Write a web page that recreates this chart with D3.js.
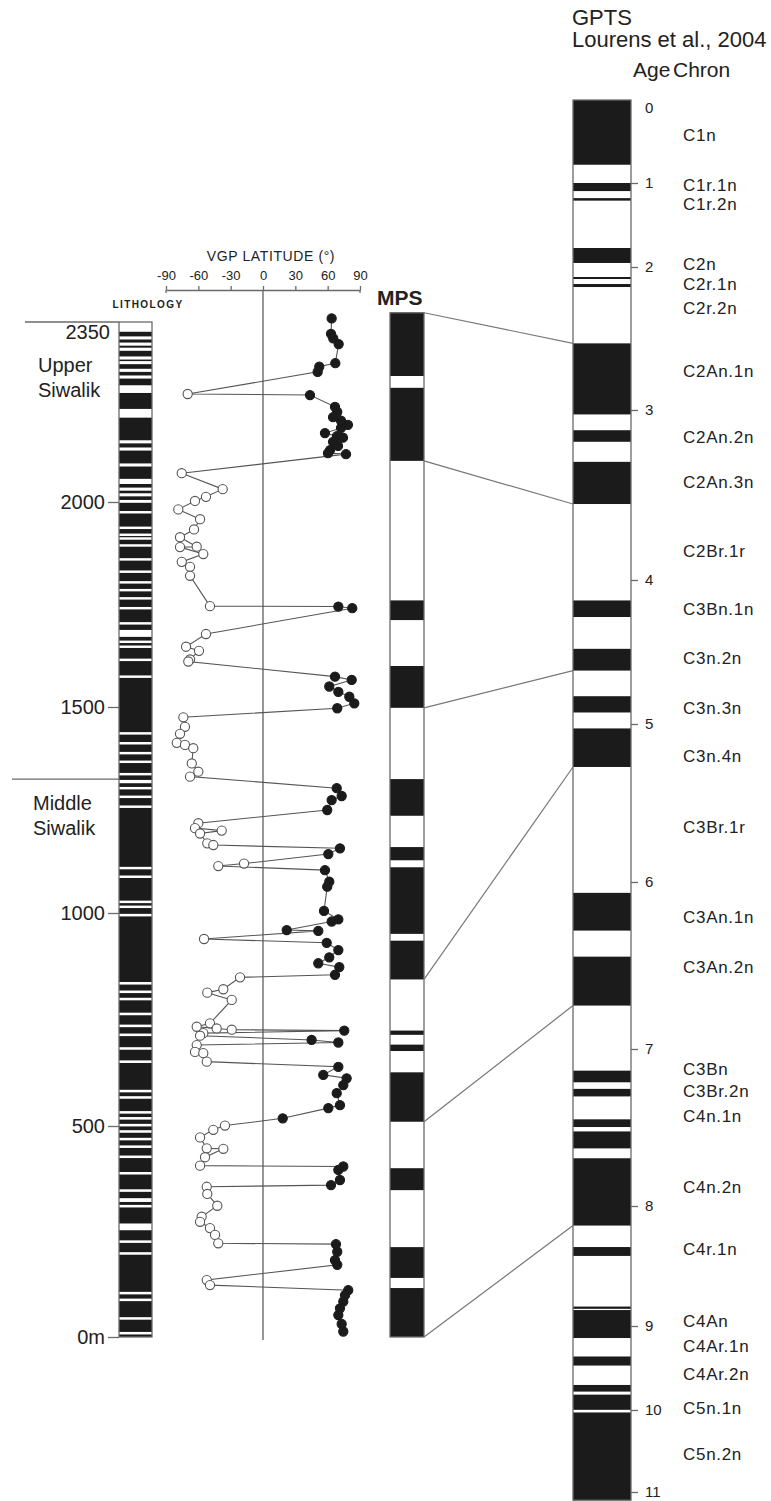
<!DOCTYPE html>
<html>
<head>
<meta charset="utf-8">
<script src="https://cdn.jsdelivr.net/npm/d3@7"></script>
<style>
  body { margin: 0; background: #fff; }
  svg { display: block; }
  text { font-family: "Liberation Sans", Arial, sans-serif; fill: #222; }
</style>
</head>
<body>
<svg id="chart" width="771" height="1501"></svg>
<script>
// ---------- Section depth (m) and GPTS age (Ma) reference ticks ----------
const depthTicks = [0, 500, 1000, 1500, 2000, 2350];
const ageTicks = [0, 1, 2, 3, 4, 5, 6, 7, 8, 9, 10, 11];
const latTicks = [-90, -60, -30, 0, 30, 60, 90];

// ---------- Lithology: sandstone beds (white), depth intervals in m ----------
const sandBeds = [
  [2350, 2331], [2322, 2316], [2310, 2304], [2300, 2294], [2283, 2277], [2274, 2268],
  [2259, 2253], [2246, 2240], [2227, 2212], [2181, 2164], [2120, 2114], [2106, 2100],
  [2075, 2069], [2045, 2035], [2028, 2022], [2017, 2011], [2004, 1998], [1978, 1972],
  [1940, 1934], [1923, 1917], [1914, 1908], [1897, 1891], [1863, 1857], [1833, 1827],
  [1807, 1801], [1788, 1782], [1768, 1762], [1744, 1738], [1707, 1701], [1688, 1671],
  [1662, 1656], [1650, 1644], [1618, 1612], [1577, 1571], [1439, 1433], [1415, 1409],
  [1391, 1385], [1370, 1364], [1340, 1334], [1323, 1315], [1306, 1300], [1285, 1279],
  [1261, 1255], [1112, 1106], [1091, 1085], [1030, 1024], [1018, 1012], [998, 992],
  [838, 832], [818, 812], [801, 795], [766, 760], [738, 732], [717, 711], [685, 679],
  [654, 648], [585, 579], [570, 564], [535, 529], [521, 515], [505, 499], [490, 484],
  [472, 466], [454, 448], [430, 424], [391, 385], [350, 344], [329, 320], [313, 307],
  [269, 253], [229, 223], [201, 195], [107, 101], [91, 85], [47, 41], [12, 6]
];

// ---------- Formations ----------
const formationNames = [["Upper", "Siwalik"], ["Middle", "Siwalik"]];
const formationTops = [2350, 1325];

// ---------- VGP latitude by stratigraphic level (m, degrees) ----------
const vgpDepth = [
  2357, 2327, 2318, 2307, 2270, 2263, 2253,
  2210,
  2208, 2185, 2175, 2165, 2158, 2150, 2144, 2134, 2128, 2125, 2117, 2109, 2101, 2095, 2093,
  2056, 2025, 2010, 2002, 1982, 1958, 1933, 1914, 1891, 1890, 1873, 1854, 1842, 1820, 1746,
  1745, 1741,
  1678, 1647, 1637, 1616, 1611,
  1574, 1566, 1550, 1537, 1525, 1509, 1497,
  1475, 1452, 1435, 1413, 1408, 1400, 1363, 1343, 1331,
  1303, 1284, 1274, 1250,
  1218, 1206, 1200, 1193, 1169, 1165,
  1157, 1143,
  1120, 1114,
  1104, 1076, 1064, 1005, 985, 980, 960, 958,
  939,
  930, 913, 896, 882, 873, 855,
  849, 821, 813, 796, 741, 733, 729, 726,
  724,
  718, 712,
  702, 696,
  690, 674, 671, 651,
  639, 620, 612, 596, 577, 549, 542, 518,
  501, 491, 473, 447, 446, 426, 406,
  404, 396, 372, 360,
  356, 339, 311, 285, 273, 258, 242, 222,
  220, 202, 182, 171,
  135, 123,
  111, 99, 84, 68, 52, 31, 13
];
const vgpLat = [
  63.7, 63.1, 65.2, 70.2, 67.1, 52.2, 50.7,
  -69.9,
  43.6, 66.8, 68.9, 65.0, 72.4, 78.8, 72.4, 57.5, 68.6, 74.2, 65.0, 69.6, 62.2, 60.3, 77.0,
  -75.4, -37.4, -52.9, -63.1, -78.6, -58.4, -64.0, -77.0, -61.5, -77.0, -55.4, -75.4, -67.7, -67.7, -49.2,
  69.9, 82.8,
  -52.9, -71.4, -59.4, -67.7, -69.3,
  66.8, 82.3, 61.5, 69.9, 80.1, 84.7, 68.9,
  -73.9, -72.4, -77.0, -80.0, -72.4, -64.7, -66.1, -60.0, -67.7,
  68.4, 73.0, 63.7, 59.6,
  -60.0, -63.1, -38.3, -58.4, -51.7, -46.1,
  71.4, 60.6,
  -17.6, -41.5,
  57.5, 61.5, 59.6, 56.6, 69.9, 63.7, 22.0, 51.3,
  -54.7,
  59.1, 69.9, 61.5, 51.3, 70.8, 66.8,
  -21.3, -36.8, -51.7, -29.0, -49.2, -61.5, -43.0, -29.0,
  75.4,
  -55.4, -58.4,
  45.1, 69.9,
  -61.5, -63.1, -55.4, -52.2,
  69.9, 55.9, 77.6, 74.5, 68.4, 71.4, 60.6, 18.3,
  -35.3, -46.1, -58.4, -52.2, -36.8, -53.8, -58.4,
  74.5, 69.9, 71.4, 63.1,
  -52.2, -51.7, -42.4, -56.9, -58.4, -49.2, -44.5, -41.5,
  67.7, 68.9, 66.8, 68.9,
  -52.2, -49.2,
  79.1, 76.1, 74.5, 71.4, 69.9, 73.0, 74.5
];

// ---------- Magnetic polarity stratigraphy (normal zones, m) ----------
const mpsTop = 2368;
const mpsNormal = [
  [2368, 2245], [2222, 2080], [1760, 1712], [1600, 1498], [1325, 1236], [1160, 1128],
  [1111, 951], [935, 844], [724, 714], [691, 676], [626, 510], [400, 348], [213, 140], [116, 0]
];

// ---------- GPTS (Lourens et al., 2004): normal chrons in Ma ----------
const gptsBase = 11.1;
const gptsNormal = [
  [0, 0.78], [1.0, 1.096], [1.18, 1.21], [1.774, 1.952], [2.07, 2.084], [2.119, 2.14],
  [2.534, 3.026], [3.119, 3.187], [3.305, 3.553], [4.142, 4.257], [4.478, 4.629],
  [4.807, 4.92], [5.028, 5.272], [6.065, 6.291], [6.447, 6.74], [7.138, 7.212],
  [7.254, 7.302], [7.448, 7.497], [7.525, 7.633], [7.696, 8.163], [8.342, 8.416],
  [8.838, 8.857], [8.867, 9.143], [9.363, 9.471], [9.702, 9.781], [9.817, 9.998],
  [10.03, 11.1]
];
const chronNames = [
  "C1n", "C1r.1n", "C1r.2n", "C2n", "C2r.1n", "C2r.2n", "C2An.1n", "C2An.2n", "C2An.3n",
  "C2Br.1r", "C3Bn.1n", "C3n.2n", "C3n.3n", "C3n.4n", "C3Br.1r", "C3An.1n", "C3An.2n",
  "C3Bn", "C3Br.2n", "C4n.1n", "C4n.2n", "C4r.1n", "C4An", "C4Ar.1n", "C4Ar.2n",
  "C5n.1n", "C5n.2n"
];
const chronAges = [
  0.42, 1.02, 1.25, 1.97, 2.12, 2.29, 2.73, 3.16, 3.425,
  3.83, 4.2, 4.54, 4.89, 5.2, 5.65, 6.21, 6.51,
  7.13, 7.27, 7.43, 7.88, 8.36, 8.96, 9.24, 9.57,
  9.98, 10.54
];

// ---------- Correlation tie points: MPS level (m) -> GPTS age (Ma) ----------
const tieDepth = [2368, 2080, 1498, 844, 510, 0];
const tieAge = [2.534, 3.553, 4.629, 5.272, 6.74, 8.163];

// =================================================================
const svg = d3.select("#chart");
const BLACK = "#1b1b1b";
const FRAME = "#6a6a6a";

const depthY = d3.scaleLinear().domain(depthTicks).range([1337, 1126, 913, 707, 502, 322]);
const ageY = d3.scaleLinear().domain(ageTicks)
  .range([100, 183, 267, 410, 580, 724, 882, 1049, 1206, 1326, 1410, 1492]);
const latX = d3.scaleLinear().domain([-90, 90]).range([166, 360]);

const litho = { x: 119, w: 33 };
const mps = { x: 390, w: 34 };
const gpts = { x: 573, w: 58 };

// ---------- Formation boundaries and labels ----------
const fm = svg.append("g");
fm.append("line").attr("x1", 25).attr("x2", litho.x)
  .attr("y1", depthY(formationTops[0])).attr("y2", depthY(formationTops[0]))
  .attr("stroke", FRAME).attr("stroke-width", 1.4);
fm.append("line").attr("x1", 12).attr("x2", litho.x)
  .attr("y1", depthY(formationTops[1])).attr("y2", depthY(formationTops[1]))
  .attr("stroke", FRAME).attr("stroke-width", 1.4);
const fmOffsets = [50, 31];
const fmX = [38, 33];
formationNames.forEach((lines, i) => {
  const t = fm.append("text").attr("x", fmX[i])
    .attr("y", depthY(formationTops[i]) + fmOffsets[i])
    .attr("font-size", 20);
  lines.forEach((s, j) => t.append("tspan").attr("x", fmX[i])
    .attr("dy", j === 0 ? 0 : 25).text(s));
});

// ---------- Lithology column ----------
const lg = svg.append("g");
lg.append("rect").attr("x", litho.x).attr("width", litho.w)
  .attr("y", depthY(2350)).attr("height", depthY(0) - depthY(2350)).attr("fill", BLACK);
lg.selectAll("rect.bed").data(sandBeds).join("rect").attr("class", "bed")
  .attr("x", litho.x).attr("width", litho.w)
  .attr("y", d => depthY(d[0])).attr("height", d => depthY(d[1]) - depthY(d[0]))
  .attr("fill", "#fff");
lg.append("rect").attr("x", litho.x).attr("width", litho.w)
  .attr("y", depthY(2350)).attr("height", depthY(0) - depthY(2350))
  .attr("fill", "none").attr("stroke", FRAME).attr("stroke-width", 1.3);
svg.append("text").attr("x", 148).attr("y", 308)
  .attr("text-anchor", "middle").attr("font-size", 10).attr("font-weight", "bold")
  .attr("letter-spacing", 1.4).text("LITHOLOGY");

// Depth axis
const dAxis = svg.append("g").attr("transform", `translate(${litho.x},0)`)
  .call(d3.axisLeft(depthY).tickValues([0, 500, 1000, 1500, 2000]).tickSize(11).tickPadding(3)
    .tickFormat(d => d === 0 ? "0m" : String(d)));
dAxis.select(".domain").remove();
dAxis.selectAll(".tick line").attr("stroke", FRAME).attr("stroke-width", 1.3);
dAxis.selectAll(".tick text").attr("font-size", 20).attr("fill", "#222")
  .attr("font-family", "Liberation Sans, Arial, sans-serif");
svg.append("text").attr("x", 110).attr("y", depthY(2350) + 17)
  .attr("text-anchor", "end").attr("font-size", 20).text("2350");

// ---------- VGP latitude panel ----------
const vg = svg.append("g");
const axisY = 290;
const vAxis = vg.append("g").attr("transform", `translate(0,${axisY})`)
  .call(d3.axisTop(latX).tickValues(latTicks).tickSize(4).tickSizeOuter(0).tickPadding(6)
    .tickFormat(d => String(d)));
vAxis.select(".domain").attr("stroke", FRAME).attr("stroke-width", 1.4);
vAxis.selectAll(".tick line").attr("stroke", FRAME).attr("stroke-width", 1.3);
vAxis.selectAll(".tick text").attr("font-size", 13).attr("fill", "#222")
  .attr("font-family", "Liberation Sans, Arial, sans-serif");
[-90, 90].forEach(v => vg.append("line").attr("x1", latX(v)).attr("x2", latX(v))
  .attr("y1", axisY).attr("y2", axisY + 3).attr("stroke", FRAME).attr("stroke-width", 1.3));
vg.append("text").attr("x", 271).attr("y", 261).attr("text-anchor", "middle")
  .attr("font-size", 14).attr("letter-spacing", 0.6).text("VGP LATITUDE (°)");
vg.append("line").attr("x1", latX(0)).attr("x2", latX(0))
  .attr("y1", axisY).attr("y2", depthY(0) + 3).attr("stroke", FRAME).attr("stroke-width", 1.4);

const vgp = vgpDepth.map((d, i) => ({ depth: d, lat: vgpLat[i] }));
vg.append("path").datum(vgp)
  .attr("d", d3.line().x(d => latX(d.lat)).y(d => depthY(d.depth)))
  .attr("fill", "none").attr("stroke", "#555").attr("stroke-width", 1.1);
vg.selectAll("circle").data(vgp).join("circle")
  .attr("cx", d => latX(d.lat)).attr("cy", d => depthY(d.depth)).attr("r", 4.6)
  .attr("fill", d => d.lat > 0 ? BLACK : "#fff")
  .attr("stroke", d => d.lat > 0 ? BLACK : "#555").attr("stroke-width", 1.1);

// ---------- MPS column ----------
const mg = svg.append("g");
mg.append("rect").attr("x", mps.x).attr("width", mps.w)
  .attr("y", depthY(mpsTop)).attr("height", depthY(0) - depthY(mpsTop)).attr("fill", "#fff");
mg.selectAll("rect.n").data(mpsNormal).join("rect").attr("class", "n")
  .attr("x", mps.x).attr("width", mps.w)
  .attr("y", d => depthY(d[0])).attr("height", d => depthY(d[1]) - depthY(d[0]))
  .attr("fill", BLACK);
mg.append("rect").attr("x", mps.x).attr("width", mps.w)
  .attr("y", depthY(mpsTop)).attr("height", depthY(0) - depthY(mpsTop))
  .attr("fill", "none").attr("stroke", FRAME).attr("stroke-width", 1.3);
svg.append("text").attr("x", 377).attr("y", 305).attr("font-size", 21)
  .attr("font-weight", "bold").text("MPS");

// ---------- Tie lines ----------
svg.append("g").selectAll("line").data(tieDepth).join("line")
  .attr("x1", mps.x + mps.w).attr("y1", d => depthY(d))
  .attr("x2", gpts.x).attr("y2", (d, i) => ageY(tieAge[i]))
  .attr("stroke", "#777").attr("stroke-width", 1.2);

// ---------- GPTS column ----------
const gg = svg.append("g");
gg.append("rect").attr("x", gpts.x).attr("width", gpts.w)
  .attr("y", ageY(0)).attr("height", ageY(gptsBase) - ageY(0)).attr("fill", "#fff");
gg.selectAll("rect.n").data(gptsNormal).join("rect").attr("class", "n")
  .attr("x", gpts.x).attr("width", gpts.w)
  .attr("y", d => ageY(d[0])).attr("height", d => ageY(d[1]) - ageY(d[0]))
  .attr("fill", BLACK);
gg.append("rect").attr("x", gpts.x).attr("width", gpts.w)
  .attr("y", ageY(0)).attr("height", ageY(gptsBase) - ageY(0))
  .attr("fill", "none").attr("stroke", FRAME).attr("stroke-width", 1.3);

const aAxis = svg.append("g").attr("transform", `translate(${gpts.x + gpts.w},0)`)
  .call(d3.axisRight(ageY).tickValues(ageTicks).tickSize(7).tickPadding(7)
    .tickFormat(d => String(d)));
aAxis.select(".domain").remove();
aAxis.selectAll(".tick line").attr("stroke", FRAME).attr("stroke-width", 1.3)
  .attr("opacity", d => d === 0 ? 0 : 1);
aAxis.selectAll(".tick text").attr("font-size", 15).attr("fill", "#222")
  .attr("font-family", "Liberation Sans, Arial, sans-serif")
  .attr("dy", d => d === 0 ? "0.8em" : "0.32em");

svg.append("g").selectAll("text").data(chronNames).join("text")
  .attr("x", 683).attr("y", (d, i) => ageY(chronAges[i])).attr("dy", "0.35em")
  .attr("font-size", 17).attr("letter-spacing", 0.7).text(d => d);

// Header
svg.append("text").attr("x", 572).attr("y", 25).attr("font-size", 22).text("GPTS");
svg.append("text").attr("x", 572).attr("y", 47).attr("font-size", 22).text("Lourens et al., 2004");
svg.append("text").attr("x", 633).attr("y", 77).attr("font-size", 21).text("Age");
svg.append("text").attr("x", 673).attr("y", 77).attr("font-size", 21).text("Chron");
</script>
</body>
</html>
